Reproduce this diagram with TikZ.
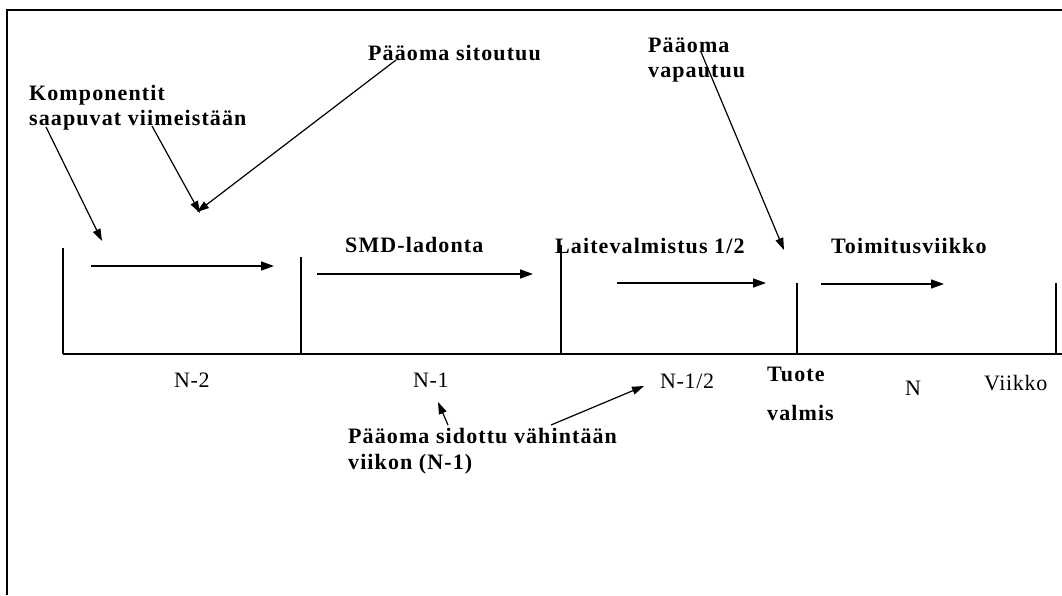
\documentclass[tikz,border=0pt]{standalone}
\usepackage{fontspec}
\setmainfont{Liberation Serif}
\newfontfamily\lblb{Liberation Serif Bold}[LetterSpace=5]
\newfontfamily\lblr{Liberation Serif}[LetterSpace=3]
\usetikzlibrary{arrows.meta}
\begin{document}
\begin{tikzpicture}[x=1pt,y=-1pt,
  bt/.style={anchor=base west,inner sep=0pt,font=\lblb\fontsize{22}{26}\selectfont},
  rt/.style={anchor=base west,inner sep=0pt,font=\lblr\fontsize{22}{26}\selectfont},
  line/.style={line width=1.8pt},
  harrow/.style={line width=1.6pt,-{Triangle[length=13pt,width=9pt]}},
  darrow/.style={line width=1.2pt,-{Triangle[length=12pt,width=8pt]}}]
\useasboundingbox (0,0) rectangle (1062,595);
% frame
\draw[line] (7,595) -- (7,10) -- (1062,10);
% timeline
\draw[line] (63,354) -- (1062,354);
\draw[line] (63,248) -- (63,354);
\draw[line] (301,257) -- (301,354);
\draw[line] (561,245) -- (561,354);
\draw[line] (797,283) -- (797,354);
\draw[line] (1056,283) -- (1056,354);
% texts
\node[bt] (komp) at (29,100) {Komponentit};
\node[bt] (saap) at (29,125) {saapuvat viimeistään};
\node[bt] (sit) at (368,60) {Pääoma sitoutuu};
\node[bt] (paa) at (648,52) {Pääoma};
\node[bt] (vap) at (648,77) {vapautuu};
\node[bt] (smd) at (345,252) {SMD-ladonta};
\node[bt] (lait) at (555,253) {Laitevalmistus 1/2};
\node[bt] (toim) at (831,253) {Toimitusviikko};
\node[bt] (tuote) at (767,381) {Tuote};
\node[bt] (valm) at (767,420) {valmis};
\node[rt] (n2) at (174,387) {N-2};
\node[rt] (n1) at (413,387) {N-1};
\node[rt] (n12) at (660,388) {N-1/2};
\node[rt] (nn) at (905,395) {N};
\node[rt] (vk) at (984,390) {Viikko};
\node[bt] (sid) at (348,443) {Pääoma sidottu vähintään};
\node[bt] (viik) at (348,469) {viikon (N-1)};
% arrow end points
\coordinate (a1s) at (46,127); \coordinate (a1e) at (102,241);
\coordinate (a2s) at (152,126); \coordinate (a2e) at (200,213);
\coordinate (a3s) at (396,60); \coordinate (a3e) at (197,212);
\coordinate (a4s) at (701,52); \coordinate (a4e) at (784,250);
\coordinate (a5s) at (448,425); \coordinate (a5e) at (438,402);
\coordinate (a6s) at (551,425); \coordinate (a6e) at (644,386);
\coordinate (h1s) at (91,266); \coordinate (h1e) at (274,266);
\coordinate (h2s) at (317,274); \coordinate (h2e) at (533,274);
\coordinate (h3s) at (617,283); \coordinate (h3e) at (766,283);
\coordinate (h4s) at (821,284); \coordinate (h4e) at (944,284);
% arrows
\draw[darrow] (a1s) -- (a1e);
\draw[darrow] (a2s) -- (a2e);
\draw[darrow] (a3s) -- (a3e);
\draw[darrow] (a4s) -- (a4e);
\draw[darrow] (a5s) -- (a5e);
\draw[darrow] (a6s) -- (a6e);
\draw[harrow] (h1s) -- (h1e);
\draw[harrow] (h2s) -- (h2e);
\draw[harrow] (h3s) -- (h3e);
\draw[harrow] (h4s) -- (h4e);
\end{tikzpicture}
\end{document}
